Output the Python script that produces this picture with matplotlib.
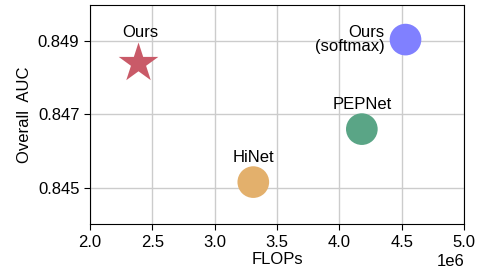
import matplotlib.pyplot as plt

plt.rcParams['font.family'] = ['Liberation Sans', 'DejaVu Sans']

names = ['Ours', 'Ours\n(softmax)', 'PEPNet', 'HiNet']
flops = [2.39e6, 4.53e6, 4.18e6, 3.31e6]
auc = [0.8484, 0.84905, 0.8466, 0.84515]
colors = ['#c95a68', '#8080ff', '#5aa586', '#e3b06c']
markers = ['*', 'o', 'o', 'o']
sizes = [900, 520, 520, 520]

fig = plt.figure(figsize=(4.78, 2.71), dpi=100)
ax = fig.add_axes([0.188, 0.173, 0.783, 0.809])
ax.grid(True, color='#cccccc', linewidth=1, zorder=0)
ax.set_axisbelow(True)

for i in range(len(names)):
    ax.scatter(flops[i], auc[i], s=sizes[i], c=colors[i], marker=markers[i],
               edgecolors='none', zorder=3)

# labels
ax.annotate(names[0], (flops[0], auc[0]), xytext=(1, 17), textcoords='offset points',
            ha='center', va='bottom', fontsize=12)
ax.annotate(names[1], (flops[1], auc[1]), xytext=(-15, 0), textcoords='offset points',
            ha='right', va='center', fontsize=12, linespacing=0.95)
ax.annotate(names[2], (flops[2], auc[2]), xytext=(0, 12), textcoords='offset points',
            ha='center', va='bottom', fontsize=12)
ax.annotate(names[3], (flops[3], auc[3]), xytext=(0, 12), textcoords='offset points',
            ha='center', va='bottom', fontsize=12)

ax.set_xlim(2.0e6, 5.0e6)
ax.set_ylim(0.844, 0.850)
ax.set_xticks([2.0e6, 2.5e6, 3.0e6, 3.5e6, 4.0e6, 4.5e6, 5.0e6])
ax.set_yticks([0.845, 0.847, 0.849])
ax.tick_params(labelsize=12, direction='out', length=4)
ax.xaxis.get_offset_text().set_fontsize(12)
ax.set_xlabel('FLOPs', fontsize=12, labelpad=2)
ax.set_ylabel('Overall  AUC', fontsize=12)

plt.savefig('out.png', dpi=100)
